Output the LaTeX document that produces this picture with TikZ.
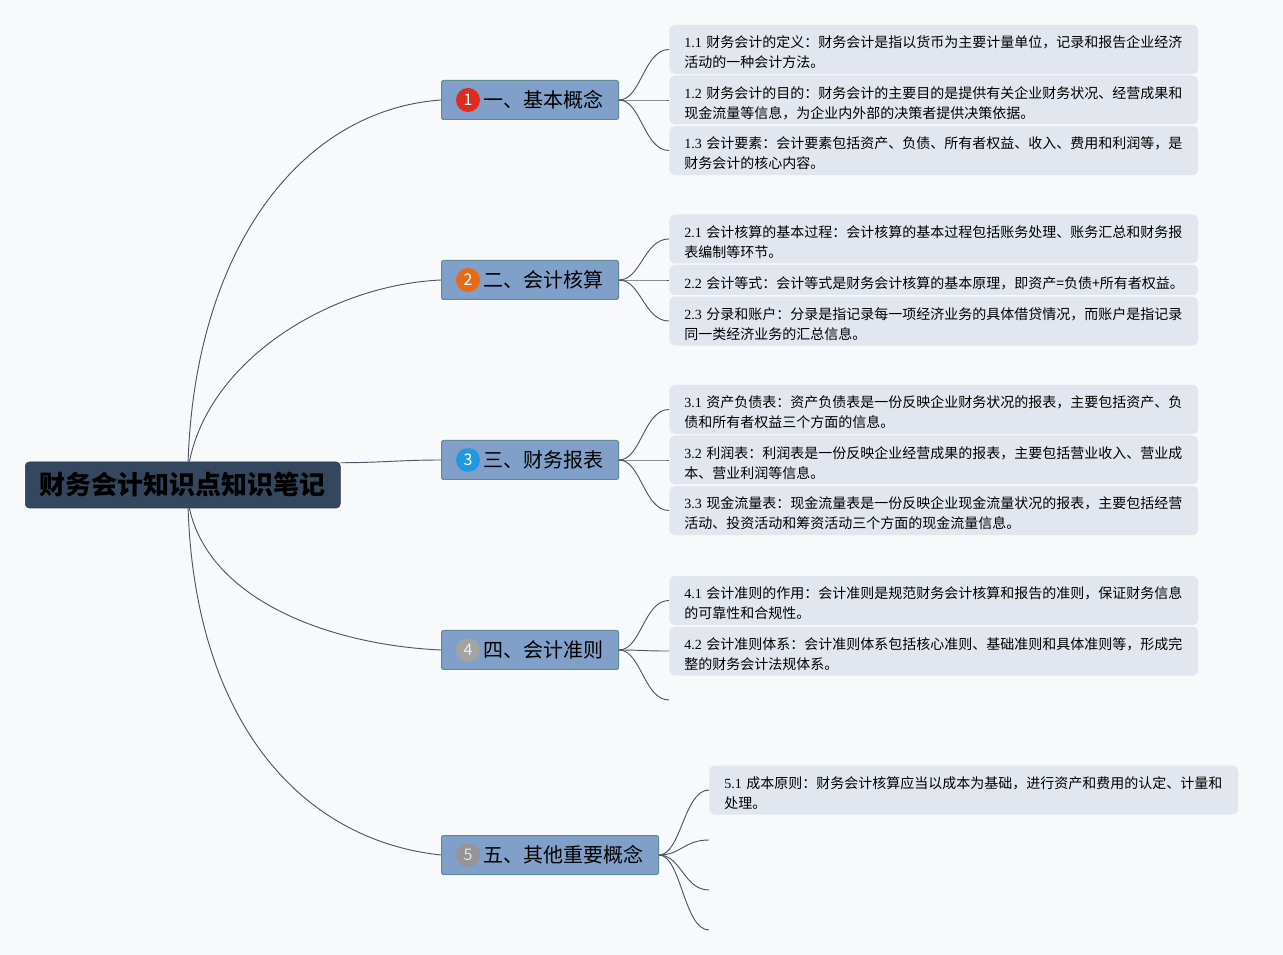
\documentclass[tikz,border=0pt]{standalone}
\usepackage{fontspec}
\setmainfont{Liberation Serif}
\newfontfamily\cjk{Noto Sans CJK SC}
\usetikzlibrary{positioning}
\definecolor{paperBg}{HTML}{F8F9FA}
\definecolor{rootFill}{HTML}{34475F}
\definecolor{rootLine}{HTML}{2B3A4E}
\definecolor{topicFill}{HTML}{809FC9}
\definecolor{topicLine}{HTML}{5E8C94}
\definecolor{leafFill}{HTML}{E2E7EF}
\definecolor{linkGray}{HTML}{4F5561}
\definecolor{markRed}{HTML}{E12A1B}
\definecolor{markOrange}{HTML}{E86A17}
\definecolor{markBlue}{HTML}{1E9BE0}
\definecolor{markGray}{HTML}{A3A3A3}
\definecolor{markDark}{HTML}{959595}
\newcommand{\leafno}[1]{{\rmfamily #1}~}

\begin{document}
\begin{tikzpicture}[x=0.75pt,y=-0.75pt,
          root/.style={draw=rootLine,fill=rootFill,rounded corners=3pt,
                      minimum width=236.25pt,minimum height=34.5pt,
                      font=\cjk\bfseries\fontsize{19.5pt}{22pt}\selectfont},
          topic/.style={draw=topicLine,line width=0.75pt,fill=topicFill,rounded corners=1.5pt,
                      minimum height=29.25pt,inner xsep=11.25pt,text width=110.25pt,align=left,
                      font=\cjk\fontsize{15pt}{18pt}\selectfont,
                      execute at begin node={\hspace*{20.25pt}}},
          badge/.style={circle,minimum size=18pt,inner sep=0pt,text=white,
                      font=\cjk\fontsize{12pt}{14pt}\selectfont},
          leaf/.style={fill=leafFill,rounded corners=4pt,text width=374.25pt,inner xsep=11.25pt,
                      inner ysep=2pt,minimum height=36.75pt,align=left,
                      font=\cjk\fontsize{10.5pt}{15pt}\selectfont,
                      execute at begin node={\rule{0pt}{13.5pt}}},
          link/.style={draw=linkGray,line width=0.7pt}]
        \fill[paperBg] (0,0) rectangle (1283,955);
        \node[root,anchor=west] (root) at (25,485) {财务会计知识点知识笔记};
        \node[topic,anchor=west] (b1) at (441,100) {一、基本概念};
        \node[topic,anchor=west] (b2) at (441,280) {二、会计核算};
        \node[topic,anchor=west] (b3) at (441,460) {三、财务报表};
        \node[topic,anchor=west] (b4) at (441,650) {四、会计准则};
        \node[topic,anchor=west,text width=140.25pt] (b5) at (441,855) {五、其他重要概念};
        \node[badge,fill=markRed] (n1) at ([xshift=20.25pt]b1.west) {1};
        \node[badge,fill=markOrange] (n2) at ([xshift=20.25pt]b2.west) {2};
        \node[badge,fill=markBlue] (n3) at ([xshift=20.25pt]b3.west) {3};
        \node[badge,fill=markGray,text=white!80!markGray] (n4) at ([xshift=20.25pt]b4.west) {4};
        \node[badge,fill=markDark,text=white!75!markDark] (n5) at ([xshift=20.25pt]b5.west) {5};

        \node[leaf,right=37.5pt of b1] (l12) {\leafno{1.2}财务会计的目的：财务会计的主要目的是提供有关企业财务状况、经营成果和\\现金流量等信息，为企业内外部的决策者提供决策依据。};
        \node[leaf,above=0.75pt of l12] (l11) {\leafno{1.1}财务会计的定义：财务会计是指以货币为主要计量单位，记录和报告企业经济\\活动的一种会计方法。};
        \node[leaf,below=0.75pt of l12] (l13) {\leafno{1.3}会计要素：会计要素包括资产、负债、所有者权益、收入、费用和利润等，是\\财务会计的核心内容。};

        \node[leaf,right=37.5pt of b2,minimum height=22.5pt] (l22) {\leafno{2.2}会计等式：会计等式是财务会计核算的基本原理，即资产=负债+所有者权益。};
        \node[leaf,above=0.75pt of l22] (l21) {\leafno{2.1}会计核算的基本过程：会计核算的基本过程包括账务处理、账务汇总和财务报\\表编制等环节。};
        \node[leaf,below=0.75pt of l22] (l23) {\leafno{2.3}分录和账户：分录是指记录每一项经济业务的具体借贷情况，而账户是指记录\\同一类经济业务的汇总信息。};

        \node[leaf,right=37.5pt of b3] (l32) {\leafno{3.2}利润表：利润表是一份反映企业经营成果的报表，主要包括营业收入、营业成\\本、营业利润等信息。};
        \node[leaf,above=0.75pt of l32] (l31) {\leafno{3.1}资产负债表：资产负债表是一份反映企业财务状况的报表，主要包括资产、负\\债和所有者权益三个方面的信息。};
        \node[leaf,below=0.75pt of l32] (l33) {\leafno{3.3}现金流量表：现金流量表是一份反映企业现金流量状况的报表，主要包括经营\\活动、投资活动和筹资活动三个方面的现金流量信息。};

        \node[leaf,right=37.5pt of b4,yshift=37.125pt] (l41) {\leafno{4.1}会计准则的作用：会计准则是规范财务会计核算和报告的准则，保证财务信息\\的可靠性和合规性。};
        \node[leaf,below=0.75pt of l41] (l42) {\leafno{4.2}会计准则体系：会计准则体系包括核心准则、基础准则和具体准则等，形成完\\整的财务会计法规体系。};
        \coordinate (e4) at ([xshift=37.5pt,yshift=-37.5pt]b4.east);

        \node[leaf,right=37.5pt of b5,yshift=48.75pt] (l51) {\leafno{5.1}成本原则：财务会计核算应当以成本为基础，进行资产和费用的认定、计量和\\处理。};
        \coordinate (e51) at ([xshift=37.5pt,yshift=11.25pt]b5.east);
        \coordinate (e52) at ([xshift=37.5pt,yshift=-26.25pt]b5.east);
        \coordinate (e53) at ([xshift=37.5pt,yshift=-56.25pt]b5.east);

        \draw[link] ([xshift=4pt]root.north) .. controls +(7,-212) and +(-141,10) .. (b1.west);
        \draw[link] ([xshift=5pt]root.north) .. controls +(20,-102) and +(-111,5) .. (b2.west);
        \draw[link] ([yshift=-0.75pt]root.north east) .. controls +(40,0) and +(-40,0) .. (b3.west);
        \draw[link] ([xshift=5pt]root.south) .. controls +(20,92) and +(-111,-5) .. (b4.west);
        \draw[link] ([xshift=4pt]root.south) .. controls +(7,212) and +(-141,-15) .. (b5.west);

        \foreach \from/\to in {b1/l11,b1/l12,b1/l13,b2/l21,b2/l22,b2/l23,b3/l31,b3/l32,b3/l33,b4/l41,b4/l42,b5/l51}
          \draw[link] (\from.east) .. controls +(22,0) and +(-25,0) .. (\to.west);
        \foreach \to in {e51,e52,e53}
          \draw[link] (b5.east) .. controls +(22,0) and +(-25,0) .. (\to);
        \draw[link] (b4.east) .. controls +(22,0) and +(-25,0) .. (e4);
      \end{tikzpicture}
\end{document}
